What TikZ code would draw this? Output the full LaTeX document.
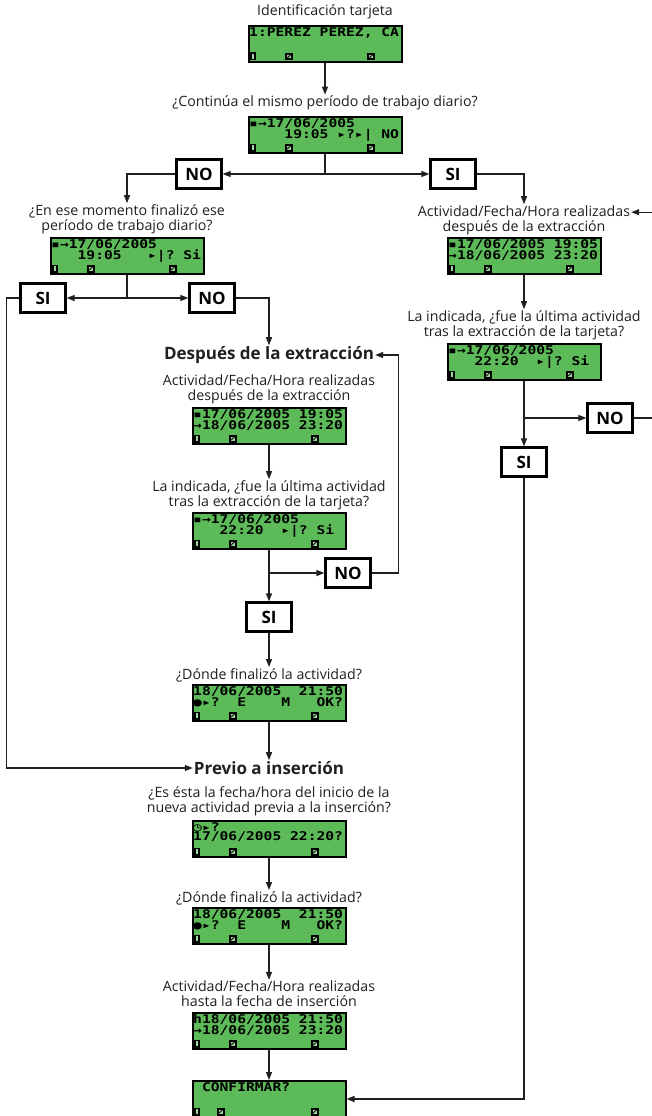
\documentclass[tikz,border=0pt]{standalone}
\usepackage{fontspec}
\setmainfont{Open Sans}
\newfontfamily\lcdfont[FakeStretch=1.22]{DejaVu Sans Mono Bold}
\usetikzlibrary{arrows.meta}
\definecolor{lcdgreen}{RGB}{92,186,88}
\definecolor{ink}{RGB}{35,31,32}
\tikzset{
  lcd/.style={draw=black, line width=2pt, fill=lcdgreen, minimum width=153pt, minimum height=36pt, inner sep=0pt},
  lcd text/.style={font=\lcdfont\fontsize{12}{9.8}\selectfont, align=left, inner sep=0pt, anchor=north west},
  ask/.style={font=\fontsize{14.2}{15}\selectfont, text=ink, align=center, inner sep=1pt},
  stage/.style={font=\bfseries\fontsize{17}{18}\selectfont, text=ink, inner sep=1pt},
  answer/.style={draw=black, line width=2.2pt, fill=white, minimum width=45pt, minimum height=29pt, inner sep=0pt, font=\bfseries\fontsize{17}{17}\selectfont},
  link/.style={draw=ink, line width=1.2pt},
  flow/.style={link, -{Triangle[length=8pt,width=6pt]}},
}
\newcommand\lcdkey[2]{%
  \fill ([shift={(#2pt,2.5pt)}]#1.south west) rectangle ++(8pt,7.5pt);
  \fill[lcdgreen!60!white] ([shift={(#2pt,2.5pt)}]#1.south west) ++(2pt,2pt) rectangle ++(4pt,3.5pt);
  \draw[line width=0.8pt] ([shift={(#2pt,2.5pt)}]#1.south west) ++(2pt,2pt) -- ++(4pt,3.5pt);
}
\newcommand\lcd[5][37]{%
  \path #3 node[lcd, name=#2] {};
  \path (#2.north west) ++(1.5pt,-2pt) node[lcd text, name=#2 text] {#4\\#5};
  \fill ([shift={(1.5pt,2.5pt)}]#2.south west) rectangle ++(7pt,8pt);
  \fill[lcdgreen!60!white] ([shift={(4pt,4pt)}]#2.south west) rectangle ++(2pt,5pt);
  \lcdkey{#2}{#1}
  \lcdkey{#2}{119}
}

\begin{document}
\begin{tikzpicture}[x=1pt, y=-1pt]
  \path[use as bounding box, fill=white] (0,0) rectangle (652,1116);

  \path (325,12) node[ask, name=q1] {Identificación tarjeta};
  \lcd{s1}{(325,44)}{1:PEREZ~PEREZ,~CA}{}
  \path (325,103) node[ask, name=q2] {¿Continúa el mismo período de trabajo diario?};
  \lcd{s2}{(325,135)}{▪→17/06/2005}{~~~~19:05~▸?▸|~NO}
  \coordinate (j1) at (325,174);
  \path (199,174) node[answer, name=n1] {NO};
  \path (453,174) node[answer, name=y1] {SI};

  \path (127,219) node[ask, name=q3] {¿En ese momento finalizó ese\\período de trabajo diario?};
  \lcd{s3}{(127,256)}{▪→17/06/2005}{~~~19:05~~~▸|?~Si}
  \coordinate (j2) at (127,298);
  \path (43,298) node[answer, name=y2] {SI};
  \path (212,298) node[answer, name=n2] {NO};

  \path (269,355) node[stage, name=h1] {Después de la extracción};
  \path (269,389) node[ask, name=q4] {Actividad/Fecha/Hora realizadas\\después de la extracción};
  \lcd{s4}{(269,426)}{▪17/06/2005~19:05}{→18/06/2005~23:20}
  \path (269,495) node[ask, name=q5] {La indicada, ¿fue la última actividad\\tras la extracción de la tarjeta?};
  \lcd{s5}{(269,531)}{▪→17/06/2005}{~~~22:20~~▸|?~Si}
  \coordinate (j3) at (269,573);
  \path (348,573) node[answer, name=n3] {NO};
  \path (269,617) node[answer, name=y3] {SI};
  \path (269,675) node[ask, name=q6] {¿Dónde finalizó la actividad?};
  \lcd{s6}{(269,703)}{18/06/2005~~21:50}{●▸?~~E~~~~M~~~OK?}

  \path (269,768) node[stage, name=h2] {Previo a inserción};
  \path (269,801) node[ask, name=q7] {¿Es ésta la fecha/hora del inicio de la\\nueva actividad previa a la inserción?};
  \lcd{s7}{(269,839)}{◷▸?}{17/06/2005~22:20?}
  \path (269,898) node[ask, name=q8] {¿Dónde finalizó la actividad?};
  \lcd{s8}{(269,926)}{18/06/2005~~21:50}{●▸?~~E~~~~M~~~OK?}
  \path (269,994) node[ask, name=q9] {Actividad/Fecha/Hora realizadas\\hasta la fecha de inserción};
  \lcd{s9}{(269,1031)}{h18/06/2005~21:50}{→18/06/2005~23:20}
  \lcd[25]{s10}{(269,1099)}{~CONFIRMAR?}{}

  \path (524,220) node[ask, name=q10] {Actividad/Fecha/Hora realizadas\\después de la extracción};
  \lcd{s11}{(524,256)}{▪17/06/2005~19:05}{→18/06/2005~23:20}
  \path (524,325) node[ask, name=q11] {La indicada, ¿fue la última actividad\\tras la extracción de la tarjeta?};
  \lcd{s12}{(524,362)}{▪→17/06/2005}{~~~22:20~~▸|?~Si}
  \coordinate (j4) at (524,418);
  \path (610,418) node[answer, name=n4] {NO};
  \path (524,462) node[answer, name=y4] {SI};

  \draw[flow] (s1) -- (q2);
  \draw[link] (s2) -- (j1);
  \draw[flow] (j1) -- (n1);
  \draw[flow] (j1) -- (y1);
  \draw[flow] (n1) -| (q3);
  \draw[flow] (y1) -| (q10);
  \draw[link] (s3) -- (j2);
  \draw[flow] (j2) -- (y2);
  \draw[flow] (j2) -- (n2);
  \draw[flow] (y2.west) -- ++(-13pt,0pt) |- (h2);
  \draw[flow] (n2) -| (h1);
  \draw[flow] (s4) -- (q5);
  \draw[link] (s5) -- (j3);
  \draw[flow] (j3) -- (n3);
  \draw[flow] (j3) -- (y3);
  \draw[flow] (n3.east) -- ++(27pt,0pt) |- (h1);
  \draw[flow] (y3) -- (q6);
  \draw[flow] (s6) -- (h2);
  \draw[flow] (s7) -- (q8);
  \draw[flow] (s8) -- (q9);
  \draw[flow] (s9) -- (s10);
  \draw[flow] (s11) -- (q11);
  \draw[link] (s12) -- (j4);
  \draw[flow] (j4) -- (n4);
  \draw[flow] (j4) -- (y4);
  \draw[flow] (n4.east) -- ++(19pt,0pt) |- ([yshift=-8pt]q10.north east);
  \draw[flow] (y4) |- (s10);
\end{tikzpicture}
\end{document}
